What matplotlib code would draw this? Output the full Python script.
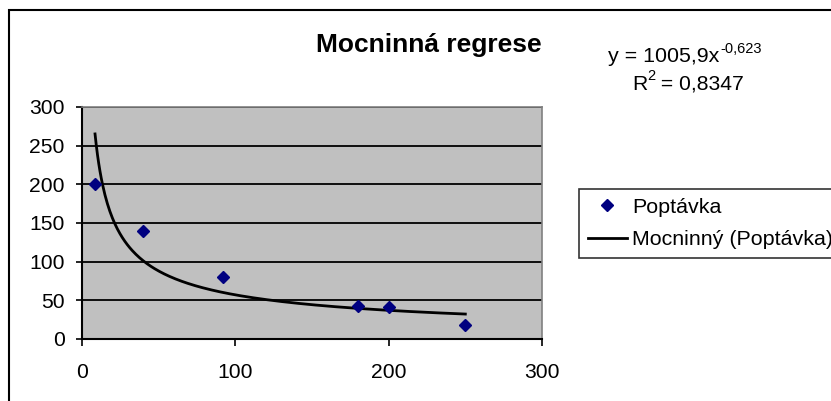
import numpy as np
import matplotlib
matplotlib.use("Agg")
import matplotlib.pyplot as plt
from matplotlib.lines import Line2D
from matplotlib.patches import Rectangle

plt.rcParams["font.family"] = ["Liberation Sans", "DejaVu Sans"]

# data
cena = [8.5, 40, 92, 180, 200, 250]
poptavka = [200, 140, 80, 43, 41, 18]

# trend line shown on the chart: y = 1005,9 x^-0,623
koef_a = 1005.9
koef_b = -0.623
r2_text = "0,8347"

x_ticks = [0, 100, 200, 300]
y_ticks = [0, 50, 100, 150, 200, 250, 300]

W, H = 831, 401
fig = plt.figure(figsize=(W / 100, H / 100), dpi=100)
ax = fig.add_axes([82 / W, 62 / H, 460 / W, 232 / H])
ax.set_facecolor("#c0c0c0")

xs = np.linspace(min(cena), max(cena), 300)
trend = koef_a * xs ** koef_b

ax.plot(cena, poptavka, linestyle="none", marker="D", markersize=6.5,
        color="#000080", zorder=4)
ax.plot(xs, trend, color="black", linewidth=2, zorder=3)

ax.set_xlim(0, 300)
ax.set_ylim(0, 300)
ax.set_xticks(x_ticks)
ax.set_yticks(y_ticks)
ax.yaxis.grid(True, color="black", linewidth=1.3)
ax.set_axisbelow(True)
ax.tick_params(axis="both", labelsize=15.2, width=1.2,
               direction="out", color="black")
ax.tick_params(axis="y", length=4.5, pad=8)
ax.tick_params(axis="x", length=5, pad=12)

for s in ["left", "bottom"]:
    ax.spines[s].set_color("black")
    ax.spines[s].set_linewidth(1.5)
for s in ["top", "right"]:
    ax.spines[s].set_color("#808080")
    ax.spines[s].set_linewidth(1.2)

fig.text(429 / W, 1 - 52 / H, "Mocninná regrese", fontsize=19,
         fontweight="bold", ha="center", va="baseline")

# equation of the trend line, superscripts as separate small texts
rend = fig.canvas.get_renderer()
eq = fig.text(608 / W, 1 - 62 / H, "y = 1005,9x", fontsize=15.4,
              ha="left", va="baseline")
b = eq.get_window_extent(rend)
fig.text((b.x1 + 1) / W, 1 - 53 / H, "-0,623", fontsize=10.5,
         ha="left", va="baseline")

r2 = fig.text(632 / W, 1 - 90 / H, "R", fontsize=15.2, ha="left", va="baseline")
b = r2.get_window_extent(rend)
sup = fig.text(b.x1 / W, 1 - 80 / H, "2", fontsize=10.5, ha="left", va="baseline")
b = sup.get_window_extent(rend)
fig.text(b.x1 / W, 1 - 90 / H, " = " + r2_text, fontsize=15.2,
         ha="left", va="baseline")

# chart area border (runs past the right and bottom edge)
fig.patches.append(Rectangle((9 / W, -0.1), 1.0, 1 - 10 / H + 0.1,
                             transform=fig.transFigure, fill=False,
                             edgecolor="black", linewidth=1.5, clip_on=False))

handles = [
    Line2D([], [], linestyle="none", marker="D", markersize=6.5, color="#000080"),
    Line2D([], [], color="black", linewidth=2),
]
leg = fig.legend(handles, ["Poptávka", "Mocninný (Poptávka)"],
                 loc="upper left", bbox_to_anchor=(579 / W, 1 - 189 / H),
                 fontsize=15.4, frameon=True, fancybox=False, borderaxespad=0,
                 handlelength=1.85, handletextpad=0.25, borderpad=0.4,
                 labelspacing=0.64)
leg.get_frame().set_edgecolor("black")
leg.get_frame().set_linewidth(1.2)

fig.savefig("out.png", dpi=100)
